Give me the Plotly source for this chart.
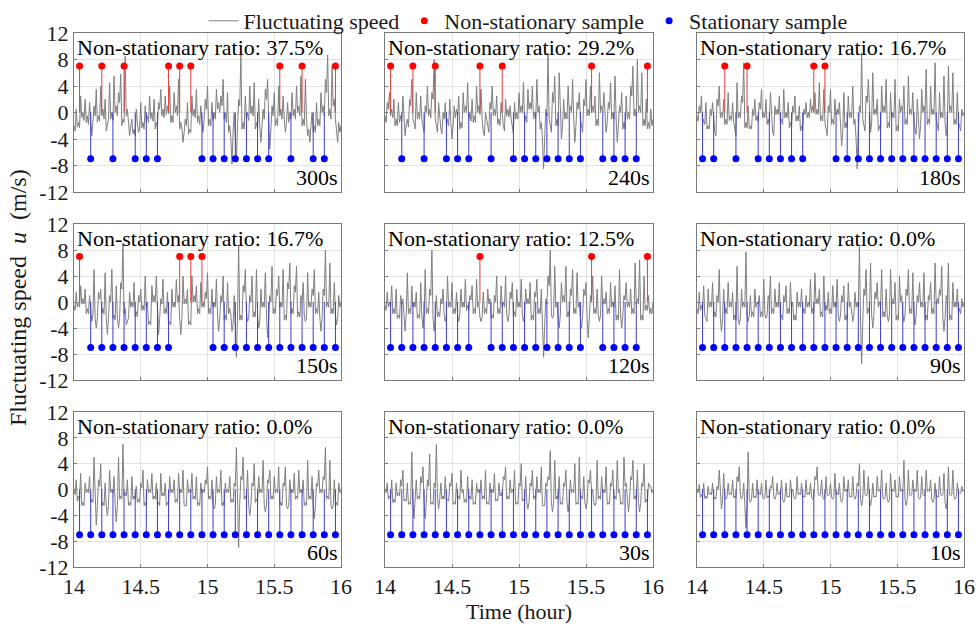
import plotly.graph_objects as go

# ---------------- data ----------------
windows = ["300s", "240s", "180s", "150s", "120s", "90s", "60s", "30s", "10s"]

# readings on the whole minute (14:00 .. 16:00, 121 values) and the
# readings half a minute later (120 values) for every window length
u_300 = [-2, 0.5, -1.5, 2.5, 0, 2, -0.5, 1.5, -3.5, 1,
         3.5, -0.5, 4, 0.5, 2, -2, 4.5, 0, 5.5, 1,
         3, 5.8, -1, 8.5, 0.5, -3.5, -1, -2.5, 0.5, -3,
         1.5, -1.5, 1, -0.5, 2.5, 0, 2, -1.5, 1.5, 3.5,
         0.5, 2.5, 1, 4, -0.5, 3, 1, 5, -1.5, -4.5,
         -1, 1.5, -2.5, 2.5, 0.5, 3.5, -0.5, 1, -3, 2,
         4, -1, 1.5, 0, 3.5, 1.5, 2.5, 5, 0, 3,
         -2, -7.8, 0, -7.5, 2, 8.8, -1.5, 2.5, 0, 4,
         1, 4.5, -1.5, 2, -4.5, 0.5, 3.5, 5, -5.5, 1,
         3, -1, 4, 0.5, 2.5, -3, 1.5, 0, 3, 0.5,
         4, 1, 5.5, -1, 5, -3.5, -4.5, 0, -2, 1.5,
         -1, 3, 1, 5, 8.7, 0.5, 7, 2, -3.5, -1.5,
         -2]
u_300_half = [-2.8, -2.2, -2.3, -0.8, -1.2, -1.5, -1.8, -2, -1.5, -0.5,
              -1.5, -1.3, -0.5, -1, -2.8, -1, -1, -1.2, 0, -0.5,
              1.5, -2, -1.5, -0.5, -1.5, -2, -3.2, -3.5, -1.5, -2.5,
              -2.3, -2.5, -1.5, -1.5, -1, -1.3, -2.5, -2.2, 0.5, -0.5,
              -0.8, -0.3, -0.2, -1.5, -1.5, 0, -0.5, -2.5, -2.5, -3,
              -2, -3.3, -3, -0.5, -0.8, -1.5, -1.8, -1.5, -1, 0.5,
              -2, -2, -1.2, -1, 0.5, 0, 1, -1, -1.5, -3,
              -4, -3, -3.5, -2, 1, -2.5, -2.5, -1, -1.2, -0.2,
              -0.5, -2.5, -2.5, -2, -2, -1, 2, -1, -2.5, -0.5,
              -2, -2, -0.5, -1, -1, -1.5, -1.5, -1, -0.5, -1,
              0, -0.5, -2, -2, -1, -2.5, -2, -3, -3, -2,
              -2, 0, -0.5, 3, -0.5, -1, 1, -1, -4.5, -3]
u_240 = [-0.5, 1.5, 3, 0.5, 2, -1, 1.5, -0.5, 2.5, -3.5,
         -1, 2, 5, -1.5, 3, 0, 2.5, -2, 1, 4,
         0.5, 3, 8, -2, 1.5, -2.5, 0, 1.5, -1, 2,
         -4, 1, 0.5, 2.5, -1.5, 3, 1, 4.5, 0, 2,
         -0.5, 4, 1, 3.5, -3, 0, -2.5, 1.5, 4, 0.5,
         2.5, -1, 1.5, -2, 2, 0.5, 1, -2.5, 1.5, 0,
         3, 1, 4.5, -0.5, 3.5, 1.5, 4, 0, 5, 1,
         -1.5, -8.5, 0.5, 9, -2, 3, 5.5, -1, 6, -4,
         2, 0, 4, 1, 5, -4.5, 1.5, 3, -2, 2,
         5, 0.5, 4, 1, 2.5, -1, 6, 1, 3, -3,
         1.5, 4.5, 0, 5.5, -4.5, 1, 3, -1.5, 2.5, 0,
         4, 7, 0.5, 8, 1, 6, -1, 2, -1.5, 0.5,
         -1]
u_240_half = [-1.5, 0.5, -0.5, -0.8, -2, -2, -1.5, -1.3, -1, -2,
              -2.2, 1, -1, -2.5, -1, -1, -1, -3, 0, -0.5,
              -0.8, 2, -1, -3, -1, -3.2, -1, -2, -2, -1.5,
              -2, -0.8, -0.5, -2.5, -2.3, 0, 0, -1, -1.3, -1.5,
              -1.5, 0, -0.3, -1, -3.5, -1, -3, 0.5, -0.5, -0.5,
              -1.8, -2, -1, -2.8, -0.5, -0.7, -1, -3.2, -1, -1,
              0, 0, -1.5, -1.5, 0.5, 0.5, -1, -1, 0, -2.5,
              -4, -3, -0.5, -1, -3, 1.5, -2, -2, -1.5, -2,
              -1, -1, 0, 0, -1, -2, 0.5, -1, -3, 1,
              -0.5, -0.5, 0, 0, -2, -2, 0, 0, -1, -1.5,
              0.5, -1, -1, -1, -2, 0, -2.5, -2.5, -1, -1,
              2.5, -0.5, -0.5, 0, 0, -2, -2, -2.5, -2.5, -2]
u_180 = [-0.5, 1, 2.5, -1, 1.5, -2, 0.5, 1.5, -3, 2,
         4, 0, 2, -1, 3, -0.5, 1.5, -3, 4.5, 0,
         2.5, 7.5, -1.5, 1, -2, 0.5, 2, -0.5, 1.5, 3.5,
         0, 2, -1, 3, -3, 1, 0.5, 2.5, -1, 3.5,
         0, 1.5, -1.5, 1, 2.5, -0.5, 1, -2, 0.5, 1.5,
         0, 2, 1, 3, 0.5, 4.5, -0.5, 3.5, -3, 1,
         3.5, -1, 2, 0.5, 1.5, -5, 3, -1.5, 2.5, 0,
         4, -1, -8.5, 1, 9, -2, 2.5, 5, -3, 6,
         0.5, 2, -2, 4, 1, 5, -1.5, 3, 0, 5,
         -2, 2, 1, 4, -1, 5.5, 0.5, 3, -2.5, 2,
         -4, 3.5, 1, 6.5, -1, 4, 0.5, 7.5, -2, 3,
         0, 5.5, -3.5, 7, 1, 6, -1, 3, -2, 0.5,
         0]
u_180_half = [-1.3, 0, -1.8, -1.8, -2.5, -2.5, -0.5, -1.5, -3.5, 1,
              -0.8, -0.8, -1.8, -1.8, -1.2, -1.2, -1.5, -3.5, -0.8, -0.8,
              1.5, -2.3, -2.3, -2.5, -2.5, -0.5, -1.2, -1.3, 0.5, -0.8,
              -0.8, -1.8, -1.8, -1.5, -3.5, -0.3, -0.3, -1.8, -1.8, -0.8,
              -0.8, -2.3, -2.3, 0, -1.3, -1.3, -2.8, -2.8, -0.3, -0.8,
              -0.8, 0, 0, -0.3, -0.3, -1.3, -1.3, -1.5, -3.5, 0,
              -1.8, -1.8, -0.3, -0.3, -2, -3, -2.3, -2.3, -0.8, -0.8,
              -1.8, -4, -3, 0, -1, -2.8, 1.5, -1, -1.5, -0.3,
              -0.3, -2.8, -2.8, 0, 0, -2.3, -2.3, -0.8, -0.8, -2.8,
              -2.8, 0, 0, -1.8, -1.8, -0.3, -0.3, -1.5, -3.3, -1.5,
              -2, 0, 0, -1.8, -1.8, -0.3, -0.3, -1, -2.8, -0.8,
              -0.8, -1.5, -2, 0, 0, -1.8, -1.8, -1.5, -2.8, -0.5]
u_150 = [-0.5, 1.5, 0, 2.5, 0.5, 2, -1, 1, -3, 5,
         -4, 1.5, 2, -1, 4.5, -5, 1, 5, -2, 2.5,
         -4, 3, 9, -1, -3, 1.5, 0, 3, -1.5, 1,
         2, -0.5, 4, 0, -3, 2.5, 1, 4, -5, 0.5,
         3.5, -1, 1.5, -3, 2, 0, 3.5, 1, -5, 4,
         0.5, 2, -3, 4, 1, 2.5, -1, 3, 0, 1.5,
         4.5, -1, 2, 0, 3.5, -4.5, 1, 4, -2, 3,
         -1, -4.5, 1, -8.5, 8.8, -2, 2.5, 5, -3, 1,
         4, -1.5, 5, -4, 2, 0, 4.5, -5.5, 1, 5.5,
         -1, 2, 4, 0, 5, -2, 3, 6, -1, 2.5,
         5.5, -1.5, 1, 3, -3, 4.5, 0, 2, 5, -1,
         1.5, -4.5, 2, 8, 0, 6, -1, 3, -3.5, 1,
         0]
u_150_half = [-1.3, -0.8, -0.8, -0.3, -0.3, -1.8, -1.8, -1.5, -2, -2.5,
              -2.5, 0.5, -1.8, -1.8, -2.5, -2.5, 0, -2.5, -2.8, -2.5,
              -2.5, 2, -1.8, -3.5, -2.5, -0.8, -0.8, -2.3, -2.3, 0,
              -1.3, -1.3, -0.8, -3.5, -3.5, 0, 0, -1.5, -2.5, -0.3,
              -1.8, -1.8, -3.5, -3.5, -0.8, -0.8, 0, -2.5, -2.5, -0.3,
              -0.3, -3.5, -3.5, 0, 0, -1.8, -1.8, -0.8, -0.8, 0.5,
              -1.8, -1.8, -0.8, -0.8, -2, -2.5, 0, -2.8, -2.8, -1.8,
              -2, -3.5, -3.5, -2, -2.8, -2.8, 1.5, -1.5, -2.5, 0,
              -2.3, -2.3, -2, -3, -0.8, -0.8, -2, -2.5, 0, -1.8,
              -1.8, 1, -0.8, -0.8, -2.8, -2.8, 2, -1.8, -1.8, 1.5,
              -2.3, -2.3, 0, -2, -2.5, -0.8, -0.8, 1, -1.8, -1.8,
              -2.5, -2.5, 1, -0.8, -0.8, -1.8, -1.8, -2, -2.5, -0.8]
u_120 = [-0.5, 1.5, 0, 2.5, -1, 2, -2, 1, 0.5, -4.5,
         4.5, -1, 2.5, 0, 1.5, -2, 3, -4, 5, -1,
         2, 8, -4.5, 1, -1.5, 0.5, 2, -3, 4, 0,
         3, -1, 1.5, -3, 2, 0, 3.5, -0.5, 1, 2.5,
         -1, 3.5, 0, -3, 1.5, -1, 2, 0.5, -2, 1,
         4, -1, 2.5, 0, 4, -3, 1.5, 3, -1.5, 2,
         0, 3.5, -3, 2, 0.5, 3, -2, 1.5, 3.5, -1,
         2, -8.5, 0.5, 4, 8, -2.5, 5.5, 0, -4, 3,
         1, 5.5, -1.5, 2, 5, -1, 4.5, 0, -4, 2,
         3, -5.5, 1, 4, -1, 2, -3, 4, 0.5, 1.5,
         -1, 3, 0, 2.5, -2, 5, -4, 1, 3, 0,
         2, -1, 6, 0.5, 6.5, -2, 4, -0.5, 1, -1,
         0]
u_120_half = [-1.3, -0.8, -0.8, -1.8, -1.8, -2.5, -2.5, -0.3, -2, -2,
              -1.8, -1.8, -0.8, -0.8, -2.5, -2.5, -2, -2, -1.8, -1.8,
              1, -2.5, -2.5, -2.3, -2.3, -0.3, -2, -2, -0.8, -0.8,
              -1.8, -1.8, -2, -2, -0.8, -0.8, -1.3, -1.3, 0.3, -1.8,
              -1.8, -0.8, -2.3, -2.3, -1.8, -1.8, -0.3, -2.5, -2.5, 0,
              -1.8, -1.8, -0.8, -0.8, -2, -2, 0.5, -2.3, -2.3, -0.8,
              -0.8, -2, -2, -0.3, -0.3, -2.8, -2.8, 0.8, -1.8, -1.8,
              -3.5, -3.5, -0.3, 2.5, -2, -2, -0.8, -2.5, -2, 0,
              0, -2.3, -2.3, 1, -1.8, -1.8, -0.8, -2.5, -2, 1,
              -2.5, -2.5, 0, -1.8, -1.8, -2, -2, -0.3, -0.3, -1.8,
              -1.8, -0.8, -0.8, -2.8, -2.8, -2, -2, 0.3, -0.8, -0.8,
              -1.8, -1.8, -0.3, -0.3, -2.8, -2.8, -1.3, -1.3, -1.8, -1.8]
u_90 = [-1, 1.5, -0.5, 2.5, -2.5, 2, 0, 3, -1.5, 1,
        5, -4.5, 2, -1, 3, 0, 1.5, -2, 5.5, -3.5,
        2, 0, 7.7, -3, 1, -1.5, 2, 0, 1, -1.5,
        3.5, -2.5, 1, 4, -1, 2, 0, 3, -2, 1,
        2.5, -1, 3, 0, -2, 1.5, 0, 2, -1, 1,
        0, 3.5, -1, 4.5, 0.5, 2, -1.5, 4, -0.5, 1.5,
        -1, 2.5, 0, 3.5, -3, 1, 2.5, -2, 3, 0,
        -3, 1.5, 0, 8.5, -9.5, 2, 5, -1, 6, -4,
        1.5, 3, 0, 5, -1.5, 2, -3, 5, 0.5, 3,
        -2, 4, 1, -3, 2, 5, -1, 4.5, -3.5, 1,
        3, 0, 4.5, -2, 1, 3, -1, 6, 0.5, 2,
        5.5, -4.5, 1, 6, -2, 3, 0, 2, -1, 0.5,
        0]
u_90_half = [-1.8, -1.3, -1.3, -2, -3, -0.8, -0.8, -2.3, -2.3, 0,
             -2.5, -2.5, -1.8, -1.8, -0.8, -0.8, -2.8, -2.8, -2.5, -2.5,
             -0.8, -0.8, -2, -2, -2.3, -2.3, -0.8, -0.3, -2.3, -2.3,
             -2, -2, 0, -1.8, -1.8, -0.8, -0.8, -2.8, -2.8, 0,
             -1.8, -1.8, -0.8, -2.8, -2.8, -0.8, -0.8, -1.8, -1.8, -0.8,
             -0.8, -1.8, -1.8, -0.3, -0.3, -2.3, -2.3, -1.3, -1.3, -1.8,
             -1.8, -0.8, -0.8, -2, -2, 0, -2.8, -2.8, -0.8, -2,
             -2, -0.8, -0.8, -3, -3, 1, -1.8, -1.8, -2, -2,
             0.5, -0.8, -0.8, -2.3, -2.3, -2, -2, -0.3, -0.3, -2.8,
             -2.8, 0, -2, -2, 1, -1.8, -1.8, -2, -2, 0,
             -0.8, -0.8, -2.8, -2.8, 0.3, -1.8, -1.8, -0.3, -0.3, 1,
             -2.5, -2.5, 0, -2.8, -2.8, -0.8, -0.8, -1.8, -1.8, -0.8]
u_60 = [0, 1.5, -1, 2.5, -2, 1, 0, 2, -1.5, 5,
        -5.5, 1.5, 4, -2, 1, -4, 3, 0, 2, -5,
        5, -1, 7, -0.5, 1.5, -2, 2, -1, 0.5, -1.5,
        1, 3, -2, 1.5, 0, 2.5, -1, 1, -2, 2.5,
        -0.5, 1, -2, 2, 0, 1.5, -1.5, 2.5, 0, 3,
        -2.5, 1.5, 0, 2.5, -1, 2, -2, 1, 0, 1.5,
        3.5, -1, 1.5, -3, 2, 0, 3, -2, 1, 0,
        2, -1.5, 1, 6.5, -9, 2, 5, -1, 3, -4,
        1, 4, -1.5, 2, 0, 4.5, -3.5, 1.5, 3, -1,
        2, 0, 3.5, -2, 1, 3.5, -3, 1.5, 0, 2.5,
        -1, 3, 0, 1.5, -2, 4.5, -1, 2, -4.5, 1,
        3, 0, 2, 6.5, -1, 4.5, -3, 1.5, -2, 1,
        0]
u_60_half = [-0.8, -1.8, -1.8, -2.5, -2.5, -0.5, -0.5, -2, -2, -2.5,
             -2.5, 0.5, -2.5, -2.5, -2.5, -2.5, -0.5, -0.5, -2.5, -2.5,
             -1.5, -1.5, -1, -1, -2.5, -2.5, -1.5, -1.5, -2, -2,
             0.3, -2.5, -2.5, -0.5, -0.5, -1.5, -1.5, -2.5, -2.5, -1,
             -1, -2.5, -2.5, -0.5, -0.5, -2, -2, -0.5, -0.5, -2.5,
             -2.5, -0.5, -0.5, -1.5, -1.5, -2.5, -2.5, -0.5, -0.5, 0.8,
             -1.5, -1.5, -2.5, -2.5, -0.5, -0.5, -2.5, -2.5, -0.5, -0.5,
             -2, -2, 0.5, -2, -2, 1.5, -1.5, -1.5, -2.5, -2.5,
             0.5, -2, -2, -0.5, -0.5, -2.5, -2.5, 1, -1.5, -1.5,
             -0.5, -0.5, -2.5, -2.5, 0.5, -2.5, -2.5, -0.5, -0.5, -1.5,
             -1.5, -0.5, -0.5, -2.5, -2.5, -1.5, -1.5, -2.5, -2.5, 0.5,
             -0.5, -0.5, 1.5, -1.5, -1.5, -2.5, -2.5, -2.5, -2.5, -0.5]
u_30 = [0, 1, -1, 1.5, -1.5, 1, -0.5, 1.5, 3, -1.5,
        1, -2, 5.8, -4.5, 1.5, -1, 2, 3.5, -4.5, 1.5,
        5.5, -2, 1, 7, -3, 1, -1, 2, -1.5, 1,
        2.5, -2, 1, -1, 3, 0, -1.5, 2, -1, 1.5,
        -2, 1, 0, 1.5, -1, 3, -2, 1, 0, 2.5,
        -1.5, 1, -0.5, 2, 3.5, -1, 1.5, 0, 3, -2,
        1, 4, -1.5, 2, -3, 1, 3, -1, 2, 0,
        3.5, -2.5, 1, 2, 6, -3.5, 4.5, -1, 2, -2,
        1, 3, -3.5, 1.5, 0, 4, -2, 5, -1, 2,
        -3, 1.5, 3, 0, -2.5, 4.5, -1, 2, 0, 3.5,
        -2, 1, 3, -1, 4.5, 0, -2, 5, 1, -3.5,
        2, 4.5, -1, 3, -3.5, 1, 4, -1.5, 1, 0.5,
        0]
u_30_half = [-0.5, -1.5, -1.5, -2, -2, -1, -1, 0.5, -1.8, -1.8,
             -2.3, -2.3, -2, -2, -1.5, -1.5, 1, -2, -2, 0.5,
             -2.3, -2.3, 0.3, -1.5, -1.5, -1.5, -1.5, -1.8, -1.8, 0.5,
             -2.3, -2.3, -1.5, -1.5, -0.5, -2, -2, -1.5, -1.5, -2.3,
             -2.3, -0.5, -0.5, -1.5, -1.5, -2.3, -2.3, -0.5, -0.5, -1.8,
             -1.8, -1, -1, 1.5, -1.5, -1.5, -0.5, -0.5, -2.3, -2.3,
             0.5, -1.8, -1.8, -2, -2, 0.5, -1.5, -1.5, -0.5, -0.5,
             -2.5, -2.5, 0.5, 1.5, -2, -2, -1.5, -1.5, -2.3, -2.3,
             0.5, -2, -2, -0.5, -0.5, -2.3, -2.3, -1.5, -1.5, -2,
             -2, 1, -0.5, -2, -2, -1.5, -1.5, -0.5, -0.5, -2.3,
             -2.3, 0.5, -1.5, -1.5, -0.5, -2.3, -2.3, 0.5, -2, -2,
             1.5, -1.5, -1.5, -2, -2, 0.5, -2, -2, 0.5, -0.5]
u_10 = [0, 0.8, -0.8, 1, -1, 0.5, -0.5, 1, -1.2, 0.5,
        3, -3, 2.5, -1.5, 1, -0.5, 1.5, -1, 2, 3.5,
        -1.5, 1, -6, 5.8, -2, 1, -1, 1.5, -0.5, 1,
        -1.5, 1.5, -1, 0.5, 2, -1.5, 1, -0.5, 1.5, -2,
        1, -1, 1.5, 0, -1.5, 2, -0.5, 1, -1, 1.5,
        -0.5, 1, -1.5, 2, 3.5, -1, 1.5, -1.5, 2, -1,
        1, -1.5, 2.5, -0.5, 1, -2, 2, 0, 1.5, -1,
        2, -1.5, 1, 4, -2.5, 3, -1, 2, -2.5, 1,
        -1, 2, 0, 3, -1.5, 1, -2, 2.5, 0, 1.5,
        -1, 2, 0, 4.5, -2.5, 3, -1, 1.5, 0, 3,
        -1.5, 2, -1, 3, 0, 1.5, -2, 1, -1, 2,
        -1, 2.5, -3, 3.5, -1, 3, -1.5, 1, -0.5, 0.5,
        0]
u_10_half = [-0.5, -1.2, -1.2, -1.4, -1.4, -0.8, -0.8, -1.5, -1.5, 0,
             -1.5, -1.5, -1.2, -1.2, -0.8, -0.8, -1.3, -1.3, 1.2, -1,
             -1, -2.5, -2.5, -1.5, -1.5, -1.3, -1.3, -0.8, -0.8, -1.2,
             -1.2, -1.3, -1.3, 0.2, -1, -1, -0.8, -0.8, -1.5, -1.5,
             -1.2, -1.2, -0.4, -1.2, -1.2, -0.8, -0.8, -1.2, -1.2, -0.8,
             -0.8, -1.2, -1.2, 1.5, -0.8, -0.8, -1.2, -1.2, -0.8, -0.8,
             -1.2, -1.2, -0.8, -0.8, -1.5, -1.5, -0.3, -0.3, -1.2, -1.2,
             -1, -1, 0.5, -1.5, -1.5, -0.8, -0.8, -1.5, -1.5, -1.2,
             -1.2, -0.3, -0.3, -1.2, -1.2, -1.5, -1.5, -0.3, -0.3, -1.2,
             -1.2, -0.3, -0.3, -1.5, -1.5, -0.8, -0.8, -0.3, -0.3, -1.2,
             -1.2, -0.8, -0.8, -0.3, -0.3, -1.5, -1.5, -1.2, -1.2, -0.8,
             -0.8, -2, -2, -0.8, -0.8, -1.2, -1.2, -0.6, -0.6, -0.3]

speeds_minute = {"300s": u_300, "240s": u_240, "180s": u_180,
                 "150s": u_150, "120s": u_120, "90s": u_90,
                 "60s": u_60, "30s": u_30, "10s": u_10}
speeds_half = {"300s": u_300_half, "240s": u_240_half, "180s": u_180_half,
               "150s": u_150_half, "120s": u_120_half, "90s": u_90_half,
               "60s": u_60_half, "30s": u_30_half, "10s": u_10_half}

# 24 five-minute samples; indices of non-stationary ones per window
n_samples = 24
nonstationary_idx = {"300s": [0, 2, 4, 8, 9, 10, 18, 20, 23],
                     "240s": [0, 2, 4, 8, 10, 18, 23],
                     "180s": [2, 4, 10, 11],
                     "150s": [0, 9, 10, 11],
                     "120s": [8, 18, 23],
                     "90s": [], "60s": [], "30s": [], "10s": []}
NONSTAT_LEVEL = 7
STAT_LEVEL = -7

y_ticks = [-12, -8, -4, 0, 4, 8, 12]
y_ticktext = ["-12", "-8", "-4", "0", "4", "8", "12"]
x_ticks = [14, 14.5, 15, 15.5, 16]
x_ticktext = ["14", "14.5", "15", "15.5", "16"]

# ---------------- figure ----------------
def merged_series(whole, half):
    ys = []
    for a, b in zip(whole, half):
        ys += [a, b]
    ys.append(whole[-1])
    return ys

time_hours = [14 + k / 120 for k in range(241)]
sample_times = [14 + (k + 0.5) / 12 for k in range(n_samples)]

FONT = "Liberation Serif"
FS = 22
col_domains = [(74 / 979, 341 / 979), (385 / 979, 653 / 979), (697 / 979, 964 / 979)]
row_domains = [(1 - 192 / 628, 1 - 33 / 628), (1 - 380 / 628, 1 - 224 / 628),
               (1 - 567 / 628, 1 - 412 / 628)]

fig = go.Figure()
layout = {}
annotations = []
legend_red_done = False
legend_blue_done = False

for i, w in enumerate(windows):
    r, c = divmod(i, 3)
    sfx = "" if i == 0 else str(i + 1)
    xr, yr = "x" + sfx, "y" + sfx

    fig.add_trace(go.Scatter(
        x=time_hours, y=merged_series(speeds_minute[w], speeds_half[w]), mode="lines",
        line=dict(color="#7f7f7f", width=1),
        name="Fluctuating speed", showlegend=(i == 0),
        xaxis=xr, yaxis=yr, hoverinfo="skip"))

    ns = nonstationary_idx[w]
    red_t = [sample_times[k] for k in range(n_samples) if k in ns]
    blue_t = [sample_times[k] for k in range(n_samples) if k not in ns]

    for times, level, lc, mc, nm in [
            (red_t, NONSTAT_LEVEL, "rgb(225,60,60)", "#ff0000", "Non-stationary sample"),
            (blue_t, STAT_LEVEL, "rgb(60,60,205)", "#0000ff", "Stationary sample")]:
        if not times:
            continue
        sx, sy = [], []
        for t in times:
            sx += [t, t, None]
            sy += [0, level, None]
        fig.add_trace(go.Scatter(x=sx, y=sy, mode="lines",
                                 line=dict(color=lc, width=1),
                                 showlegend=False, xaxis=xr, yaxis=yr,
                                 hoverinfo="skip"))
        show = False
        if level > 0 and not legend_red_done:
            show = True
            legend_red_done = True
        if level < 0 and not legend_blue_done:
            show = True
            legend_blue_done = True
        fig.add_trace(go.Scatter(x=times, y=[level] * len(times), mode="markers",
                                 marker=dict(color=mc, size=7),
                                 name=nm, showlegend=show,
                                 xaxis=xr, yaxis=yr))

    common = dict(showgrid=True, gridcolor="#e3e3e3", gridwidth=1, zeroline=False,
                  showline=True, mirror=True, linecolor="#7a7a7a", linewidth=1,
                  ticks="inside", ticklen=3, tickcolor="#7a7a7a",
                  tickfont=dict(family=FONT, size=FS, color="#1a1a1a"))
    layout["xaxis" + sfx] = dict(common, domain=col_domains[c], range=[14, 16],
                                 anchor=yr, tickvals=x_ticks, ticktext=x_ticktext,
                                 showticklabels=(r == 2))
    layout["yaxis" + sfx] = dict(common, domain=row_domains[r], range=[-12, 12],
                                 anchor=xr, tickvals=y_ticks, ticktext=y_ticktext,
                                 showticklabels=(c == 0))

    ratio = 100.0 * len(ns) / n_samples
    annotations.append(dict(text=f"Non-stationary ratio: {ratio:.1f}%",
                            xref=xr + " domain", yref=yr + " domain",
                            x=0.005, y=1.0, xanchor="left", yanchor="top",
                            showarrow=False,
                            font=dict(family=FONT, size=FS, color="#000000")))
    annotations.append(dict(text=w, xref=xr + " domain", yref=yr + " domain",
                            x=0.995, y=0.0, xanchor="right", yanchor="bottom",
                            showarrow=False,
                            font=dict(family=FONT, size=FS, color="#000000")))

annotations.append(dict(text="Fluctuating speed  <i>u</i>  (m/s)", textangle=-90,
                        xref="paper", yref="paper", x=18 / 979, y=1 - 298 / 628,
                        xanchor="center", yanchor="middle", showarrow=False,
                        font=dict(family=FONT, size=24, color="#1a1a1a")))
annotations.append(dict(text="Time (hour)", xref="paper", yref="paper",
                        x=519 / 979, y=1 - 611 / 628, xanchor="center", yanchor="middle",
                        showarrow=False, font=dict(family=FONT, size=FS, color="#1a1a1a")))

fig.update_layout(
    width=979, height=628, margin=dict(l=0, r=0, t=0, b=0, autoexpand=False),
    paper_bgcolor="white", plot_bgcolor="white",
    font=dict(family=FONT, size=FS, color="#1a1a1a"),
    showlegend=True,
    legend=dict(orientation="h", x=528 / 979, xanchor="center", y=1.0, yanchor="top",
                bgcolor="rgba(0,0,0,0)", font=dict(family=FONT, size=FS),
                itemwidth=30, tracegroupgap=0),
    annotations=annotations,
    **layout)

fig.write_html("out.html")
